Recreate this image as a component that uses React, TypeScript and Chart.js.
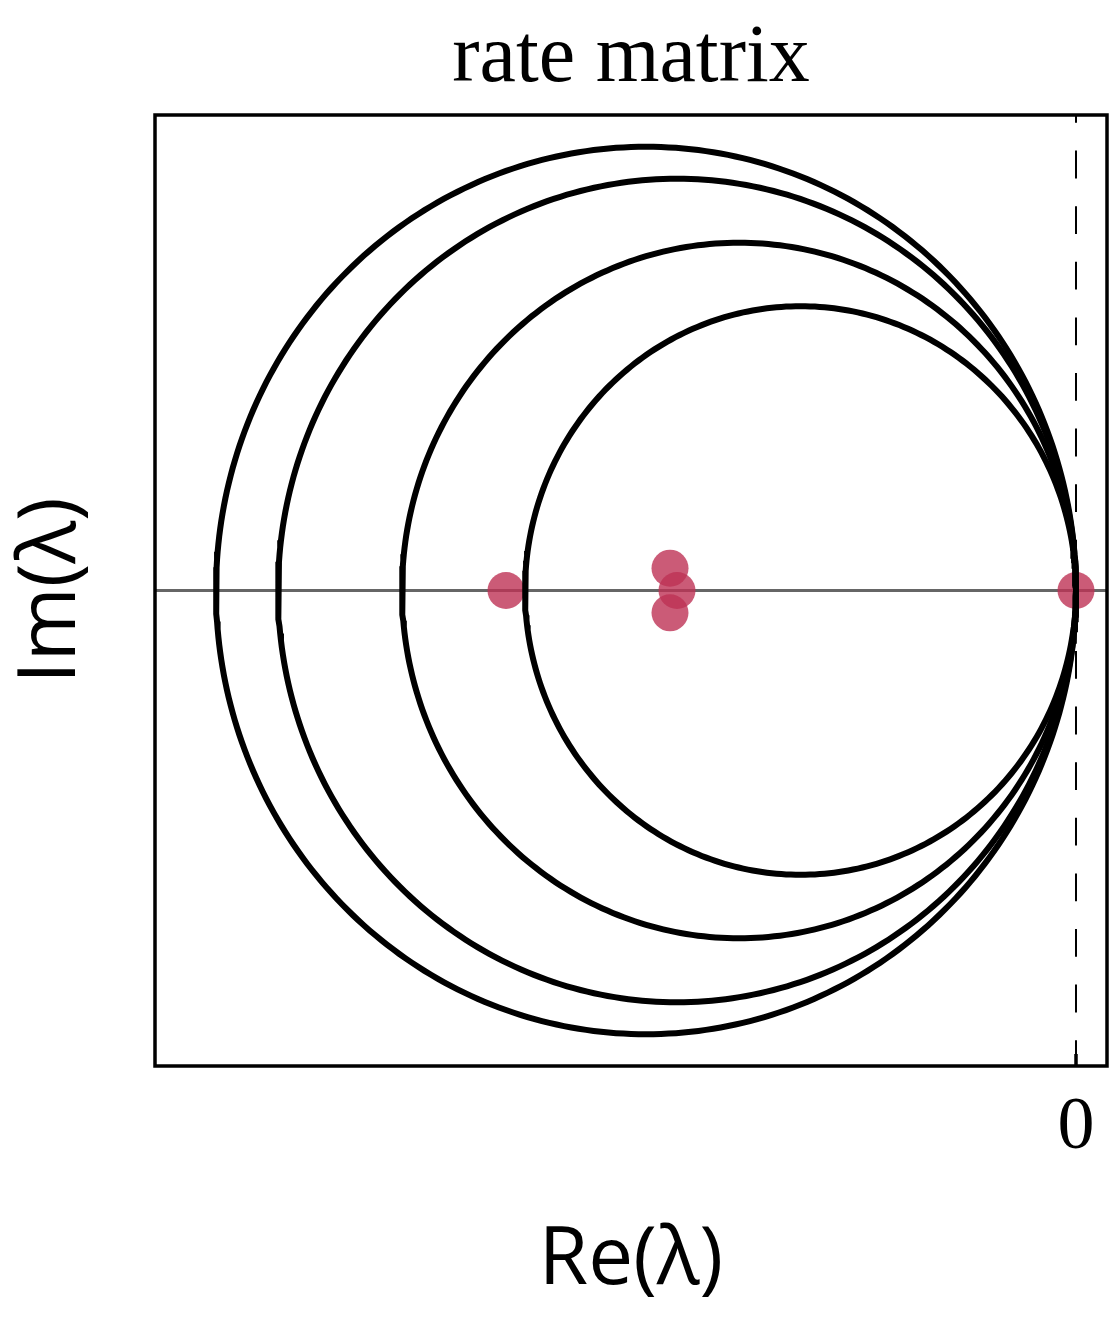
import React, { useEffect, useRef } from 'react';
import { Chart, registerables } from 'chart.js';

Chart.register(...registerables);

// ---- data ----
const titleText = 'rate matrix';
const xAxisLabel = 'Re(λ)';
const yAxisLabel = 'Im(λ)';
const xTickValues = [0];
const xTickLabels = ['0'];
const yGridValues = [0];
// Gershgorin discs of the rate matrix: centre -q, radius q
const discRates = [4.3, 3.99, 3.37, 2.755];
// eigenvalues
const eigenRe = [-5.7, -4.06, -3.99, -4.06, 0];
const eigenIm = [0, 0.216, 0, -0.216, 0];
const xLimits = [-9.21, 0.31];
const yLimits = [-4.608, 4.608];

function discOutline(q: number) {
  const pts: { x: number; y: number }[] = [];
  const n = 360;
  for (let i = 0; i <= n; i++) {
    const t = (i / n) * 2 * Math.PI;
    pts.push({ x: -q + q * Math.cos(t), y: q * Math.sin(t) });
  }
  return pts;
}

const framePlugin = {
  id: 'frameBox',
  afterDraw(chart: any) {
    const { ctx, chartArea: a } = chart;
    ctx.save();
    ctx.strokeStyle = '#000';
    ctx.lineWidth = 3.5;
    ctx.strokeRect(a.left, a.top, a.right - a.left, a.bottom - a.top);
    ctx.restore();
  },
};

export default function App() {
  const ref = useRef<HTMLCanvasElement | null>(null);

  useEffect(() => {
    if (!ref.current) return;
    const discSets = discRates.map((q) => ({
      label: 'disc ' + q,
      data: discOutline(q),
      showLine: true,
      pointRadius: 0,
      borderColor: '#000',
      borderWidth: 6,
      fill: false,
      tension: 0,
    }));
    const eigenSet = {
      label: 'eigenvalues',
      data: eigenRe.map((x, i) => ({ x, y: eigenIm[i] })),
      showLine: false,
      pointRadius: 18.5,
      pointBorderWidth: 0,
      backgroundColor: 'rgba(190, 50, 85, 0.8)',
      borderColor: 'rgba(0,0,0,0)',
    };

    const chart = new Chart(ref.current, {
      type: 'scatter',
      data: { datasets: [...discSets, eigenSet] as any },
      options: {
        animation: false,
        responsive: false,
        events: [],
        layout: { autoPadding: false, padding: { left: 0, right: 5, top: 0, bottom: 0 } },
        plugins: {
          legend: { display: false },
          tooltip: { enabled: false },
          title: {
            display: true,
            text: titleText,
            fullSize: false,
            color: '#000',
            font: { family: 'Liberation Serif', size: 82, weight: 'normal', lineHeight: 1.2 },
            padding: { top: 10, bottom: 6.6 },
          },
        },
        scales: {
          x: {
            type: 'linear',
            min: xLimits[0],
            max: xLimits[1],
            afterBuildTicks: (s: any) => {
              s.ticks = xTickValues.map((v) => ({ value: v }));
            },
            afterFit: (s: any) => {
              s.height = 258;
              s.paddingLeft = 0;
              s.paddingRight = 0;
            },
            ticks: {
              autoSkip: false,
              maxRotation: 0,
              padding: 0,
              color: '#000',
              font: { family: 'Liberation Serif', size: 74, lineHeight: 2.02 },
              callback: (v: any) => {
                const i = xTickValues.indexOf(Number(v));
                return i >= 0 ? xTickLabels[i] : '';
              },
            },
            grid: {
              display: true,
              drawOnChartArea: true,
              drawTicks: true,
              color: '#000',
              lineWidth: 2,
              tickLength: -12,
              tickWidth: 3.5,
              tickColor: '#000',
            },
            border: { display: false, dash: [27.8, 27.8], dashOffset: 20 },
            title: {
              display: true,
              text: xAxisLabel,
              color: '#000',
              font: { family: 'Open Sans', size: 80, weight: 'normal', lineHeight: 1 },
              padding: { top: 0, bottom: 23 },
            },
          },
          y: {
            type: 'linear',
            min: yLimits[0],
            max: yLimits[1],
            z: 1,
            afterBuildTicks: (s: any) => {
              s.ticks = yGridValues.map((v) => ({ value: v }));
            },
            afterFit: (s: any) => {
              s.width = 155;
              s.paddingTop = 0;
              s.paddingBottom = 0;
            },
            ticks: { display: false },
            grid: {
              display: true,
              drawOnChartArea: true,
              drawTicks: false,
              color: '#666',
              lineWidth: 3,
            },
            border: { display: false },
            title: {
              display: true,
              text: yAxisLabel,
              color: '#000',
              font: { family: 'Open Sans', size: 80, weight: 'normal', lineHeight: 1 },
              padding: { top: 12, bottom: 0 },
            },
          },
        },
      } as any,
      plugins: [framePlugin],
    });
    return () => chart.destroy();
  }, []);

  return (
    <div style={{ position: 'absolute', left: 0, top: 0, width: 1112, height: 1324, background: '#fff' }}>
      <canvas ref={ref} width={1112} height={1324} style={{ display: 'block', width: 1112, height: 1324 }} />
    </div>
  );
}
